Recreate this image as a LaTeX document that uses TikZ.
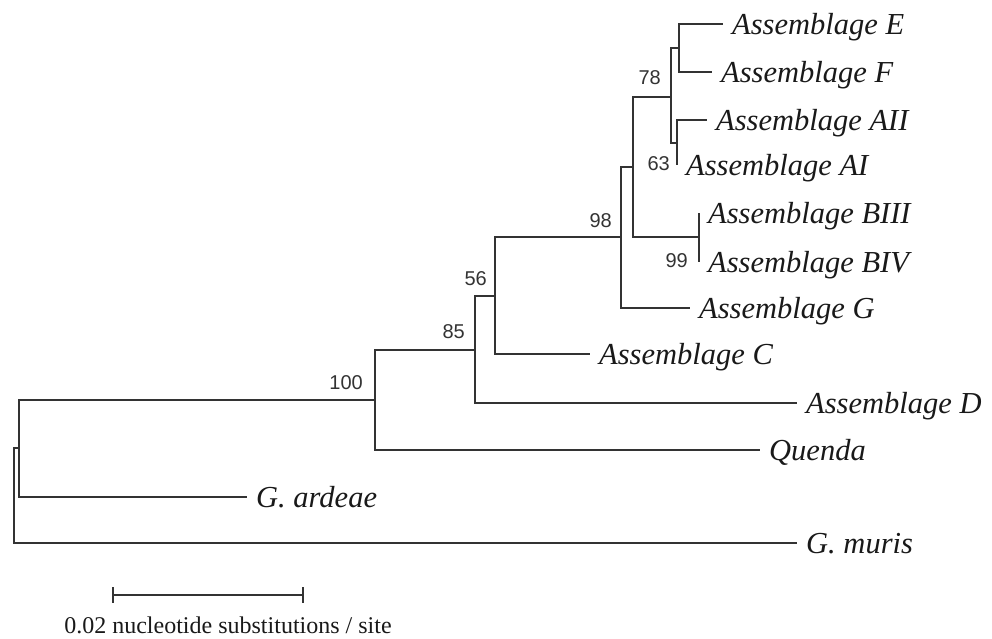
\documentclass[tikz,border=0pt]{standalone}
\usepackage{fontspec}
\setmainfont{Liberation Serif}
\setsansfont{Liberation Sans}
\usetikzlibrary{positioning}

\begin{document}
\begin{tikzpicture}[
    x=1pt, y=-1pt,
    branch/.style={
        draw=black!80,
        line width=1.3pt
    },
    taxon/.style={
        anchor=base west,
        inner sep=0pt,
        xshift=9pt,
        yshift=-10pt,
        font=\fontsize{30.5}{36}\selectfont\itshape,
        text=black!90
    },
    support/.style={
        inner sep=0pt,
        font=\fontsize{20}{24}\selectfont\sffamily,
        text=black!80
    },
    scaletext/.style={
        inner sep=0pt,
        font=\fontsize{24}{28}\selectfont,
        text=black!90
    }
]
\useasboundingbox (0,0) rectangle (992,638);

% --- Nodi interni dell'albero ---
\coordinate (root) at (14,495);
\coordinate (nOut) at (19,448);
\coordinate (n100) at (375,400);
\coordinate (n85) at (475,350);
\coordinate (n56) at (495,296);
\coordinate (n98) at (621,237);
\coordinate (nAB) at (633,167);
\coordinate (n78) at (671,97);
\coordinate (nEF) at (679,48);
\coordinate (n63) at (677,143);
\coordinate (n99) at (699,237);

% --- Estremi delle foglie ---
\coordinate (tE) at (723,24);
\coordinate (tF) at (712,72);
\coordinate (tAII) at (707,120);
\coordinate (tAI) at (677,165);
\coordinate (tBIII) at (699,213);
\coordinate (tBIV) at (699,262);
\coordinate (tG) at (690,308);
\coordinate (tC) at (590,354);
\coordinate (tD) at (797,403);
\coordinate (tQuenda) at (760,450);
\coordinate (tArdeae) at (247,497);
\coordinate (tMuris) at (797,543);

% --- Rami ---
\draw[branch] (root) |- (nOut);
\draw[branch] (root) |- (tMuris);
\draw[branch] (nOut) |- (n100);
\draw[branch] (nOut) |- (tArdeae);
\draw[branch] (n100) |- (n85);
\draw[branch] (n100) |- (tQuenda);
\draw[branch] (n85) |- (n56);
\draw[branch] (n85) |- (tD);
\draw[branch] (n56) |- (n98);
\draw[branch] (n56) |- (tC);
\draw[branch] (n98) |- (nAB);
\draw[branch] (n98) |- (tG);
\draw[branch] (nAB) |- (n78);
\draw[branch] (nAB) |- (n99);
\draw[branch] (n78) |- (nEF);
\draw[branch] (n78) |- (n63);
\draw[branch] (nEF) |- (tE);
\draw[branch] (nEF) |- (tF);
\draw[branch] (n63) |- (tAII);
\draw[branch] (n63) |- (tAI);
\draw[branch] (n99) |- (tBIII);
\draw[branch] (n99) |- (tBIV);

% --- Nomi dei taxa ---
\node[taxon] (labE) at (tE) {Assemblage E};
\node[taxon] (labF) at (tF) {Assemblage F};
\node[taxon] (labAII) at (tAII) {Assemblage AII};
\node[taxon] (labAI) at (tAI) {Assemblage AI};
\node[taxon] (labBIII) at (tBIII) {Assemblage BIII};
\node[taxon] (labBIV) at (tBIV) {Assemblage BIV};
\node[taxon] (labG) at (tG) {Assemblage G};
\node[taxon] (labC) at (tC) {Assemblage C};
\node[taxon] (labD) at (tD) {Assemblage D};
\node[taxon] (labQuenda) at (tQuenda) {Quenda};
\node[taxon] (labArdeae) at (tArdeae) {G. ardeae};
\node[taxon] (labMuris) at (tMuris) {G. muris};

% --- Valori di bootstrap ---
\node[support, above left=10pt and 12pt of n100] (s100) {100};
\node[support, above left=11pt and 10pt of n85] (s85) {85};
\node[support, above left=10pt and 8pt of n56] (s56) {56};
\node[support, above left=9pt and 9pt of n98] (s98) {98};
\node[support, above left=12pt and 10pt of n78] (s78) {78};
\node[support, below left=13pt and 7pt of n63] (s63) {63};
\node[support, below left=16pt and 11pt of n99] (s99) {99};

% --- Barra di scala ---
\coordinate (barL) at (113,595);
\coordinate (barR) at (303,595);
\draw[branch] (barL) -- (barR);
\draw[branch] ([yshift=8pt]barL) -- ([yshift=-8pt]barL);
\draw[branch] ([yshift=8pt]barR) -- ([yshift=-8pt]barR);
\node[scaletext] (barlabel) at (228,625) {0.02 nucleotide substitutions / site};

\end{tikzpicture}
\end{document}
